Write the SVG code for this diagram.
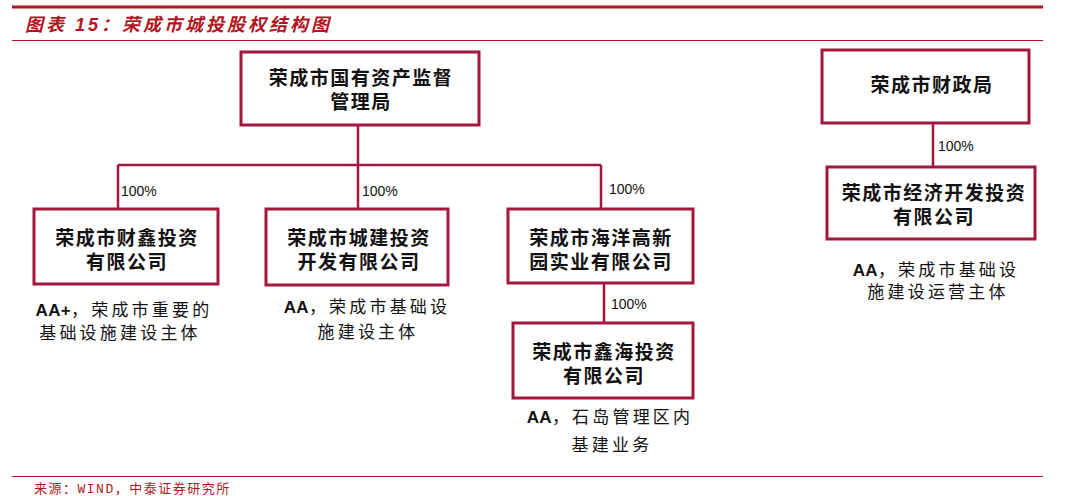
<svg xmlns="http://www.w3.org/2000/svg" width="1068" height="496" viewBox="0 0 1068 496">
<style>
.box{fill:#fff;stroke:#a3173f;stroke-width:3}
.ln{stroke:#a3173f;stroke-width:2.5;fill:none}
.bt{font-family:"Liberation Sans","Noto Sans CJK SC",sans-serif;font-size:19px;font-weight:bold;fill:#111;text-anchor:middle;letter-spacing:1.5px}
.pc{font-family:"Liberation Sans","Noto Sans CJK SC",sans-serif;font-size:14px;fill:#111}
.an{font-family:"Liberation Sans","Noto Sans CJK SC",sans-serif;font-size:17px;fill:#111;text-anchor:middle;letter-spacing:3.2px}
.aa{font-weight:bold;letter-spacing:0.3px}
</style>
<rect width="1068" height="496" fill="#fff"/>
<line x1="12" y1="7" x2="1043" y2="7" stroke="#b01622" stroke-width="3"/>
<text x="25" y="31" font-family="Liberation Sans,'Noto Sans CJK SC',sans-serif" font-size="18" font-weight="bold" font-style="italic" fill="#b01622" letter-spacing="3">图表 15：荣成市城投股权结构图</text>
<line x1="12" y1="40.5" x2="1043" y2="40.5" stroke="#b01622" stroke-width="1"/>
<line x1="12" y1="476.5" x2="1043" y2="476.5" stroke="#b01622" stroke-width="1"/>
<text x="34" y="493" font-family="'Liberation Mono','Noto Sans CJK SC',monospace" font-size="13" fill="#b01622" letter-spacing="1.5">来源：WIND，中泰证券研究所</text>
<g id="connectors">
<path class="ln" d="M358 125V165M118 165H601M118 165V209M358 165V209M601 165V209"/>
<path class="ln" d="M604 283V323"/>
<path class="ln" d="M933 123V167"/>
<text class="pc" x="121" y="196">100%</text>
<text class="pc" x="362" y="196">100%</text>
<text class="pc" x="609" y="194">100%</text>
<text class="pc" x="611" y="309">100%</text>
<text class="pc" x="938" y="151">100%</text>
</g>
<g id="n_gzj">
<rect class="box" x="241" y="52" width="238" height="73"/>
<text class="bt" x="361" y="85">荣成市国有资产监督</text>
<text class="bt" x="361" y="109">管理局</text>
</g>
<g id="n_cx">
<rect class="box" x="34" y="209" width="184" height="75"/>
<text class="bt" x="127" y="245">荣成市财鑫投资</text>
<text class="bt" x="127" y="269">有限公司</text>
<text class="an" x="124" y="316"><tspan class="aa">AA+</tspan>，荣成市重要的</text>
<text class="an" x="120" y="339">基础设施建设主体</text>
</g>
<g id="n_cj">
<rect class="box" x="266" y="209" width="182" height="76"/>
<text class="bt" x="359" y="245">荣成市城建投资</text>
<text class="bt" x="359" y="269">开发有限公司</text>
<text class="an" x="367" y="313"><tspan class="aa">AA</tspan>，荣成市基础设</text>
<text class="an" x="368" y="338">施建设主体</text>
</g>
<g id="n_hy">
<rect class="box" x="508" y="209" width="185" height="74"/>
<text class="bt" x="601" y="245">荣成市海洋高新</text>
<text class="bt" x="601" y="269">园实业有限公司</text>
</g>
<g id="n_xh">
<rect class="box" x="513" y="323" width="180" height="75"/>
<text class="bt" x="604" y="359">荣成市鑫海投资</text>
<text class="bt" x="604" y="383">有限公司</text>
<text class="an" x="610" y="423"><tspan class="aa">AA</tspan>，石岛管理区内</text>
<text class="an" x="612" y="451">基建业务</text>
</g>
<g id="n_czj">
<rect class="box" x="822" y="50" width="207" height="73"/>
<text class="bt" x="932" y="92">荣成市财政局</text>
</g>
<g id="n_jj">
<rect class="box" x="827" y="167" width="208" height="72"/>
<text class="bt" x="934" y="200">荣成市经济开发投资</text>
<text class="bt" x="934" y="224">有限公司</text>
<text class="an" x="936" y="276"><tspan class="aa">AA</tspan>，荣成市基础设</text>
<text class="an" x="938" y="298">施建设运营主体</text>
</g>
</svg>
